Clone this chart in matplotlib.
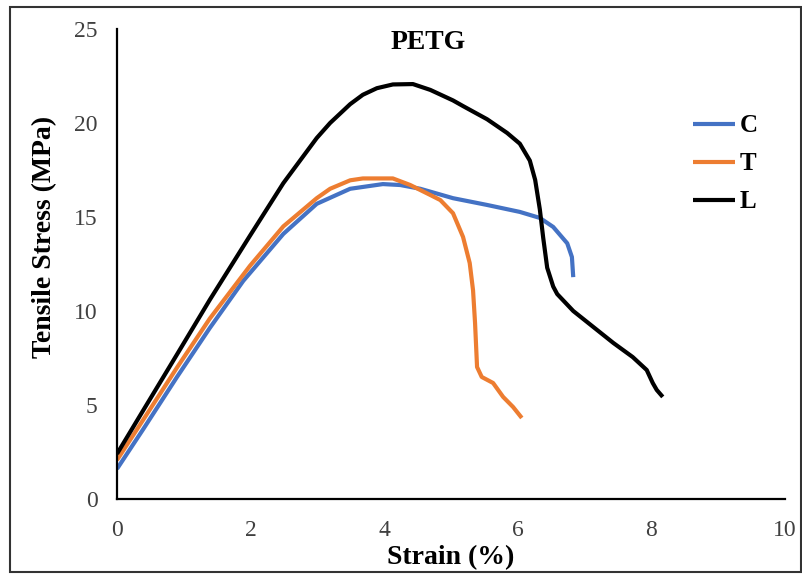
import numpy as np
import matplotlib
matplotlib.use("Agg")
import matplotlib.pyplot as plt
from matplotlib.patches import Rectangle

plt.rcParams['font.family'] = ['Liberation Serif', 'DejaVu Serif']

# C specimen
strain_c = [0.0, 0.39, 0.90, 1.39, 1.89, 2.49, 2.99, 3.49, 3.98, 4.24, 4.54, 5.03,
            5.54, 6.03, 6.33, 6.53, 6.74, 6.81, 6.83]
stress_c = [1.6, 3.7, 6.5, 9.1, 11.6, 14.1, 15.7, 16.5, 16.75, 16.7, 16.5, 16.0,
            15.64, 15.27, 14.95, 14.47, 13.6, 12.87, 11.8]

# T specimen
strain_t = [0.0, 0.39, 0.90, 1.39, 1.99, 2.49, 2.99, 3.19, 3.49, 3.68, 4.13, 4.39,
            4.69, 4.84, 5.03, 5.18, 5.28, 5.33, 5.36, 5.39, 5.46, 5.63, 5.78, 5.93, 6.06]
stress_t = [2.07, 4.2, 7.0, 9.6, 12.4, 14.5, 16.0, 16.5, 16.95, 17.05, 17.05, 16.7,
            16.17, 15.9, 15.2, 13.94, 12.55, 11.1, 9.36, 7.02, 6.49, 6.17, 5.43, 4.89, 4.31]

# L specimen
strain_l = [0.0, 0.39, 0.90, 1.39, 1.99, 2.49, 2.99, 3.19, 3.49, 3.68, 3.89, 4.13,
            4.43, 4.69, 5.03, 5.18, 5.54, 5.84, 6.03, 6.18, 6.26, 6.33, 6.38, 6.44,
            6.53, 6.59, 6.83, 7.13, 7.43, 7.72, 7.93, 8.02, 8.08, 8.17]
stress_l = [2.4, 4.7, 7.7, 10.6, 14.0, 16.8, 19.2, 20.0, 21.0, 21.5, 21.85, 22.05,
            22.07, 21.76, 21.2, 20.9, 20.2, 19.47, 18.9, 18.0, 16.97, 15.4, 13.9, 12.3,
            11.3, 10.9, 10.0, 9.15, 8.3, 7.55, 6.86, 6.17, 5.8, 5.43]

x_ticks = [0, 2, 4, 6, 8, 10]
y_ticks = [0, 5, 10, 15, 20, 25]

fig = plt.figure(figsize=(8.02, 5.74), dpi=100)
ax = fig.add_axes([0.1459, 0.1307, 0.8329, 0.8188])

kw = dict(lw=3, solid_joinstyle='round', solid_capstyle='butt')
ax.plot(strain_c, stress_c, color='#4472C4', label='C', **kw)
ax.plot(strain_t, stress_t, color='#ED7D31', label='T', **kw)
ax.plot(strain_l, stress_l, color='black', label='L', **kw)

ax.set_xlim(0, 10)
ax.set_ylim(0, 25)
ax.set_xticks(x_ticks)
ax.set_yticks(y_ticks)
ax.tick_params(length=0, labelsize=17, labelcolor='#404040')
ax.tick_params(axis='x', pad=15)
ax.tick_params(axis='y', pad=14)
for s in ['top', 'right']:
    ax.spines[s].set_visible(False)
for s in ['left', 'bottom']:
    ax.spines[s].set_linewidth(1.6)

ax.set_xlabel('Strain (%)', fontsize=20, fontweight='bold', labelpad=3)
fig.text(45 / 802, 1 - 237 / 574, 'Tensile Stress (MPa)', fontsize=20, fontweight='bold',
         rotation=90, ha='center', va='center')
ax.text(4.66, 24.3, 'PETG', fontsize=20, fontweight='bold', ha='center', va='center')

ax.legend(loc='upper left', bbox_to_anchor=(0.828, 0.866), frameon=False,
          handlelength=1.68, handletextpad=0.2, labelspacing=0.6,
          prop={'weight': 'bold', 'size': 18})

fig.add_artist(Rectangle((0.0125, 0.0035), 0.986, 0.984, transform=fig.transFigure,
                         fill=False, edgecolor='#333333', lw=1.5))

fig.savefig('out.png', dpi=100)
